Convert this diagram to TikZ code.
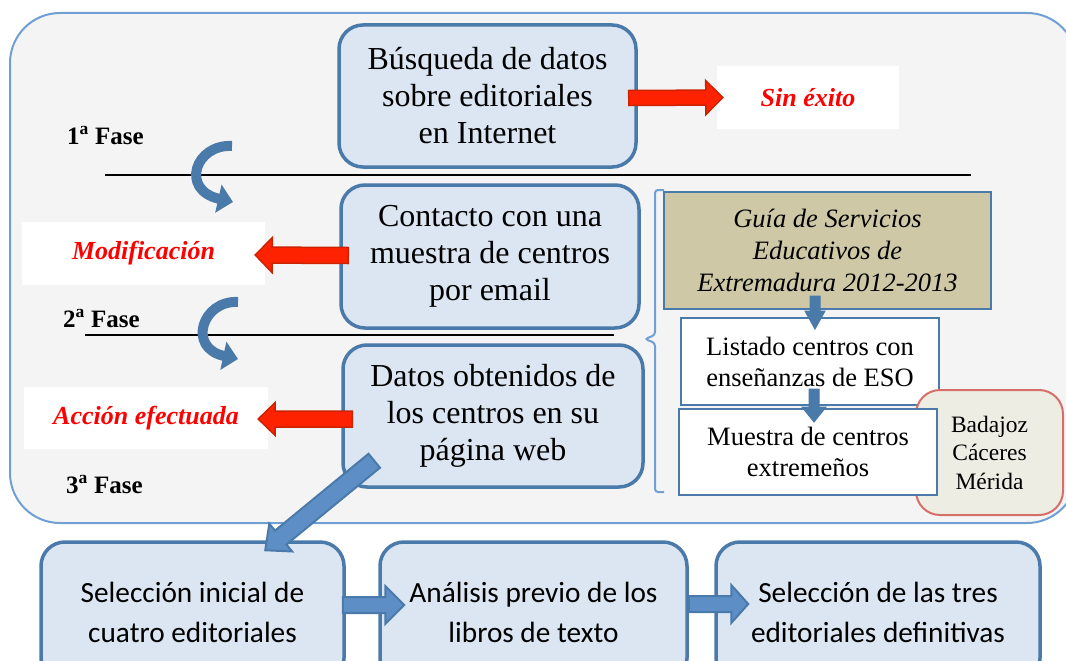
\documentclass[tikz,border=0pt]{standalone}
\usepackage{fontspec}
\setmainfont{Liberation Serif}
\newfontfamily\calibri{Carlito}
\usetikzlibrary{arrows.meta,calc,positioning}

\definecolor{boxline}{RGB}{74,122,170}
\definecolor{boxfill}{RGB}{220,230,242}
\definecolor{outerline}{RGB}{111,159,211}
\definecolor{outerfill}{RGB}{244,244,244}
\definecolor{guiafill}{RGB}{206,200,166}
\definecolor{redfill}{RGB}{255,34,0}
\definecolor{redline}{RGB}{204,34,0}
\definecolor{bluefill}{RGB}{93,143,198}
\definecolor{cityfill}{RGB}{238,237,228}
\definecolor{cityline}{RGB}{214,110,106}

% block arrow: [style]{start}{end}{body half width}{head half width}{head length}
\newcommand{\blockarrow}[6][]{%
  \coordinate (bs) at #2;
  \coordinate (be) at #3;
  \coordinate (bh) at ($(be)!#6pt!(bs)$);
  \draw[#1] ($(bs)!#4pt!90:(be)$) -- ($(bh)!#4pt!-90:(bs)$) -- ($(bh)!#5pt!-90:(bs)$)
    -- (be) -- ($(bh)!#5pt!90:(bs)$) -- ($(bh)!#4pt!90:(bs)$) -- ($(bs)!#4pt!-90:(be)$) -- cycle;
}

\begin{document}
\begin{tikzpicture}[x=1pt, y=-1pt,
  mainbox/.style={draw=boxline, line width=3.5pt, fill=boxfill, rounded corners=24pt,
    align=center, inner sep=0pt, font=\fontsize{32}{37}\selectfont},
  lowbox/.style={mainbox, font=\calibri\fontsize{29.3}{40}\selectfont},
  whitebox/.style={fill=white, text=red, inner sep=0pt, font=\bfseries\itshape\fontsize{26}{30}\selectfont},
  fase/.style={anchor=base west, inner sep=0pt, font=\bfseries\fontsize{25}{30}\selectfont},
  listbox/.style={draw=boxline, line width=2pt, fill=white, align=center, inner sep=0pt,
    font=\fontsize{26.5}{31}\selectfont},
  redarr/.style={fill=redfill, draw=redline, line width=1.5pt},
  bluearr/.style={fill=bluefill, draw=boxline, line width=2pt},
  darkarr/.style={fill=boxline, draw=boxline, line width=1pt},
  curvarr/.style={draw=boxline, line width=10pt, -{Triangle[length=15pt,width=28pt]}}]

\useasboundingbox (0,0) rectangle (1066,661);
\draw[draw=outerline, fill=outerfill, line width=2pt, rounded corners=50pt] (10,13) rectangle (1077,523);

% phases
\node[fase] (f1) at (67,144) {1\textsuperscript{a} Fase};
\node[fase] (f2) at (63,327) {2\textsuperscript{a} Fase};
\node[fase] (f3) at (66,493) {3\textsuperscript{a} Fase};
\draw[line width=2pt] (105,175) -- (971,175);
\draw[line width=2pt] (85,335) -- (614,335);

\coordinate (c1a) at (232,146);
\coordinate (c1b) at (233,202);
\coordinate (c2a) at (238,302);
\coordinate (c2b) at (238,359);
\draw[curvarr] (c1a) .. controls (195,144) and (180,190) .. (c1b);
\draw[curvarr] (c2a) .. controls (202,300) and (187,348) .. (c2b);

% main steps
\node[mainbox, minimum width=297pt, minimum height=142pt] (busq) at (487.5,96)
  {Búsqueda de datos\\sobre editoriales\\en Internet};
\node[mainbox, minimum width=298pt, minimum height=143pt] (contacto) at (490,256.5)
  {Contacto con una\\muestra de centros\\por email};
\node[mainbox, minimum width=300pt, minimum height=142pt] (datos) at (493,416)
  {Datos obtenidos de\\los centros en su\\página web};

\node[whitebox, minimum width=182pt, minimum height=63pt] (sin) at (808,97.5) {Sin éxito};
\node[whitebox, minimum width=243pt, minimum height=63pt] (modif) at (143.5,253.5) {Modificación};
\node[whitebox, minimum width=244pt, minimum height=62pt] (accion) at (146,418) {Acción efectuada};

% sample
\draw[draw=outerline, line width=2pt, rounded corners=3pt]
  (664,190) -- (655,190) -- (655,335) -- (645,339) -- (655,343) -- (655,492) -- (664,492);
\node[listbox, fill=guiafill, minimum width=327pt, minimum height=117pt,
  font=\itshape\fontsize{26.5}{32}\selectfont] (guia) at (827.5,250.5)
  {Guía de Servicios\\Educativos de\\Extremadura 2012-2013};
\node[listbox, minimum width=258pt, minimum height=87pt] (listado) at (810,361.5)
  {Listado centros con\\enseñanzas de ESO};
\node[draw=cityline, line width=2pt, fill=cityfill, rounded corners=24pt, align=center,
  minimum width=147pt, minimum height=125pt, inner sep=0pt, font=\fontsize{23.5}{28.5}\selectfont]
  (ciudades) at (989.5,452.5) {Badajoz\\Cáceres\\Mérida};
\node[listbox, minimum width=258pt, minimum height=86pt] (muestra) at (808,452)
  {Muestra de centros\\extremeños};

% final steps
\node[lowbox, minimum width=303pt, minimum height=140pt] (sel) at (192.5,612)
  {Selección inicial de\\cuatro editoriales};
\node[lowbox, minimum width=307pt, minimum height=140pt] (analisis) at (533.5,612)
  {Análisis previo de los\\libros de texto};
\node[lowbox, minimum width=324pt, minimum height=140pt] (final) at (878,612)
  {Selección de las tres\\editoriales definitivas};

% arrows
\blockarrow[redarr]{($(busq.east)+(-9,2)$)}{($(sin.west)+(6,0)$)}{7.5}{17}{17}
\blockarrow[redarr]{($(contacto.west)+(9,-1)$)}{($(modif.east)+(-10,1.5)$)}{8}{17.5}{17}
\blockarrow[redarr]{($(datos.west)+(11,3)$)}{($(accion.east)+(-10,1)$)}{8}{16.5}{17}
\blockarrow[darkarr]{($(guia.south)+(-12.5,-14)$)}{($(listado.north)+(5,12)$)}{5}{10}{18}
\blockarrow[darkarr]{($(listado.south)+(4,-17)$)}{($(muestra.north)+(6,14)$)}{5}{12}{15}
\blockarrow[bluearr]{($(datos.south west)+(33,-28)$)}{($(sel.north west)+(226,10)$)}{9}{18}{20}
\blockarrow[bluearr]{($(sel.east)+(-3,-7)$)}{($(analisis.west)+(26,-7)$)}{8}{19}{19}
\blockarrow[bluearr]{($(analisis.east)+(0,-8)$)}{($(final.west)+(34,-8)$)}{8}{19}{17}

\end{tikzpicture}
\end{document}
